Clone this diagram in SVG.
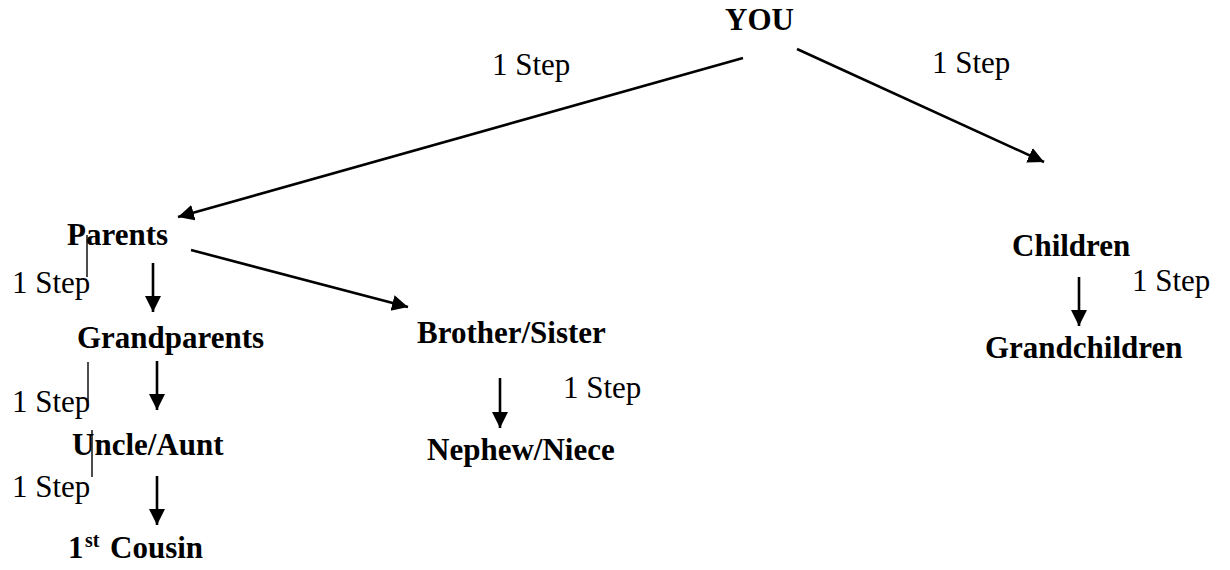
<svg xmlns="http://www.w3.org/2000/svg" width="1230" height="570" viewBox="0 0 1230 570">
  <style>
    .node { font-family: "Liberation Serif", "Times New Roman", serif; font-weight: bold; font-size: 31px; fill: #000; }
    .lbl { font-family: "Liberation Serif", "Times New Roman", serif; font-size: 31px; fill: #000; }
    .conn { stroke: #000; stroke-width: 2.6; fill: none; marker-end: url(#arrow); }
    .tick { stroke: #000; stroke-width: 1.4; fill: none; }
  </style>
  <defs>
    <marker id="arrow" markerUnits="userSpaceOnUse" markerWidth="18" markerHeight="18" refX="16" refY="8" orient="auto">
      <path d="M0,0 L16,8 L0,16 z" fill="#000"/>
    </marker>
  </defs>
  <rect width="1230" height="570" fill="#fff"/>

  <g id="connectors">
    <line class="conn" x1="743" y1="58" x2="178" y2="217"/>
    <line class="conn" x1="797" y1="49" x2="1044" y2="162"/>
    <line class="conn" x1="191" y1="250" x2="408" y2="307"/>
    <line class="conn" x1="153" y1="263" x2="153" y2="312"/>
    <line class="conn" x1="157" y1="361" x2="157" y2="410"/>
    <line class="conn" x1="157" y1="476" x2="157" y2="525"/>
    <line class="conn" x1="500" y1="378" x2="500" y2="428"/>
    <line class="conn" x1="1079" y1="277" x2="1079" y2="326"/>
    <line class="tick" x1="87" y1="235" x2="87" y2="277"/>
    <line class="tick" x1="88" y1="362" x2="88" y2="402"/>
    <line class="tick" x1="92" y1="430" x2="92" y2="477"/>
  </g>

  <g id="labels">
    <text class="lbl" x="492" y="75">1 Step</text>
    <text class="lbl" x="932" y="73">1 Step</text>
    <text class="lbl" x="12" y="293">1 Step</text>
    <text class="lbl" x="12" y="412">1 Step</text>
    <text class="lbl" x="12" y="497">1 Step</text>
    <text class="lbl" x="563" y="398">1 Step</text>
    <text class="lbl" x="1132" y="291">1 Step</text>
  </g>

  <g id="you"><text class="node" x="725" y="30">YOU</text></g>
  <g id="parents"><text class="node" x="67" y="245">Parents</text></g>
  <g id="grandparents"><text class="node" x="77" y="348">Grandparents</text></g>
  <g id="uncle-aunt"><text class="node" x="72" y="455">Uncle/Aunt</text></g>
  <g id="first-cousin"><text class="node" x="68" y="558">1<tspan x="85" y="547" font-size="20">st</tspan><tspan x="110" y="558">Cousin</tspan></text></g>
  <g id="brother-sister"><text class="node" x="417" y="343">Brother/Sister</text></g>
  <g id="nephew-niece"><text class="node" x="427" y="460">Nephew/Niece</text></g>
  <g id="children"><text class="node" x="1012" y="256">Children</text></g>
  <g id="grandchildren"><text class="node" x="985" y="358">Grandchildren</text></g>
</svg>
